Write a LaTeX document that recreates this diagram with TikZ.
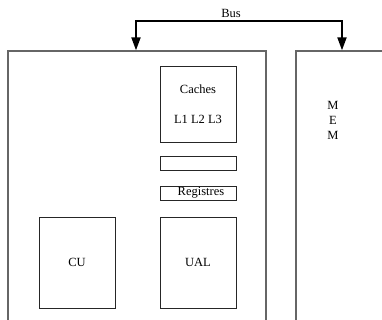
\documentclass[tikz,border=0pt]{standalone}
\usepackage{fontspec}
\setmainfont{Liberation Serif}
\usetikzlibrary{arrows.meta}

\begin{document}
\begin{tikzpicture}[x=1pt,y=-1pt]

    \tikzset{
      OuterStyle/.style = { rectangle, draw = black!60, line width = 1.3pt,
                            inner sep = 0pt },
      BlockStyle/.style = { rectangle, draw = black!85, line width = 0.9pt,
                            inner sep = 0pt, minimum width = 76pt,
                            font = \fontsize{12.5}{15}\selectfont },
      BusStyle/.style   = { line width = 2pt, line join = miter,
                            {Triangle[length=13pt,width=9pt]}-{Triangle[length=13pt,width=9pt]} },
      TextStyle/.style  = { inner sep = 0pt, align = center,
                            font = \fontsize{12.5}{15}\selectfont } }

    \useasboundingbox (0,0) rectangle (382,320);
    \clip (0,0) rectangle (382,320);

      % processor and memory, both run off the page
      \node[OuterStyle, minimum width = 258pt, minimum height = 300pt] (cpu) at (137,201){};
      \node[OuterStyle, minimum width = 110pt, minimum height = 300pt] (mem) at (351,201){};

      % blocks inside the processor
      \node[BlockStyle, minimum height = 76pt, align = center] (caches) at (198,104)
        {Caches\\[15pt]L1 L2 L3};
      \node[BlockStyle, minimum height = 14pt] (empty) at (198,163){};
      \node[BlockStyle, minimum height = 14pt] (regs) at (198,193){\hspace{6pt}Registres};
      \node[BlockStyle, minimum height = 91pt] (cu) at (77,262.5){CU};
      \node[BlockStyle, minimum height = 91pt] (ual) at (198,262.5){UAL};

      \node[TextStyle] (memtext) at (333,120){M\\E\\M};

      % the bus
      \coordinate (busL) at (136,21);
      \coordinate (busR) at (342,21);
      \draw[BusStyle] (busL |- cpu.north) -- (busL) -- (busR) -- (busR |- mem.north);
    \node[TextStyle, anchor = south] (bus) at (231,18){Bus};

\end{tikzpicture}
\end{document}
